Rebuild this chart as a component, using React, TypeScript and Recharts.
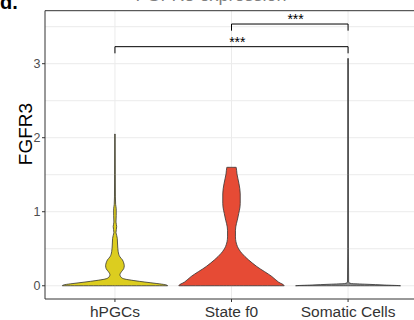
import {
  ComposedChart,
  Area,
  XAxis,
  YAxis,
  CartesianGrid,
  ReferenceLine,
  ReferenceDot
} from "recharts";

const categories = ["hPGCs", "State f0", "Somatic Cells"];

// expression levels (FGFR3) and violin half widths, in category units
const hpgcLevels = [0, 0.015, 0.03, 0.05, 0.07, 0.09, 0.11, 0.15, 0.19, 0.23, 0.27, 0.31, 0.35, 0.39, 0.46, 0.55, 0.64, 0.68, 0.72, 0.8, 0.86, 0.95, 1.04, 1.1, 1.2, 1.5, 2.05];
const hpgcWidths = [0.452, 0.429, 0.36, 0.257, 0.163, 0.086, 0.056, 0.043, 0.056, 0.075, 0.08, 0.075, 0.064, 0.043, 0.028, 0.023, 0.02, 0.015, 0.009, 0.015, 0.009, 0.011, 0.011, 0.006, 0.004, 0.003, 0.002];

const stateF0Levels = [0, 0.05, 0.125, 0.26, 0.35, 0.44, 0.53, 0.66, 0.75, 0.93, 1.11, 1.24, 1.38, 1.51, 1.6];
const stateF0Widths = [0.452, 0.403, 0.346, 0.217, 0.146, 0.088, 0.051, 0.034, 0.034, 0.056, 0.075, 0.075, 0.064, 0.047, 0.04];

const somaticLevels = [0, 0.01, 0.02, 0.03, 0.05, 0.5, 1.5, 3.07];
const somaticWidths = [0.45, 0.309, 0.163, 0.026, 0.005, 0.003, 0.003, 0.003];

const yTicks = [0, 1, 2, 3];
const gridLevels = [0, 0.5, 1, 1.5, 2, 2.5, 3, 3.5];
const yDomain = [-0.179, 3.716];

// significance brackets
const bracketFrom = [1, 2];
const bracketTo = [3, 3];
const bracketLevels = [3.23, 3.536];
const bracketDrop = 0.09;
const bracketLabels = ["***", "***"];
const labelPositions = [2.05, 2.55];

const FILLS = ["#DCCD1F", "#E64B35", "#8C8C8C"];

type Range = [number | null, number | null];

const violins = [
  { levels: hpgcLevels, widths: hpgcWidths },
  { levels: stateF0Levels, widths: stateF0Widths },
  { levels: somaticLevels, widths: somaticWidths }
];

const rows: Record<string, number | Range>[] = [];
violins.forEach((vio, i) => {
  const c = i + 1;
  const key = categories[i];
  const push = (v: number, lo: number, hi: number) => {
    const row: Record<string, number | Range> = { v };
    categories.forEach((k) => {
      row[k] = k === key ? [lo, hi] : [null, null];
    });
    rows.push(row);
  };
  const n = vio.levels.length;
  push(vio.levels[0], c, c); // close bottom
  vio.levels.forEach((v, j) => push(v, c - vio.widths[j], c + vio.widths[j]));
  push(vio.levels[n - 1], c, c); // close top
});

export default function App() {
  return (
    <div
      style={{
        position: "fixed",
        left: 0,
        top: 0,
        width: 414,
        height: 320,
        overflow: "hidden",
        background: "#fff",
        fontFamily: "'Liberation Sans', Arial, sans-serif"
      }}
    >
      <ComposedChart
        width={418}
        height={320}
        layout="vertical"
        data={rows}
        margin={{ top: 10.7, right: 0, bottom: 0, left: 0 }}
      >
        <CartesianGrid
          horizontalValues={gridLevels}
          verticalValues={[1, 2, 3]}
          stroke="#ebebeb"
          strokeWidth={1}
        />
        <XAxis
          type="number"
          domain={[0.4, 3.6]}
          ticks={[1, 2, 3]}
          interval={0}
          allowDataOverflow
          tickFormatter={(t: number) => categories[t - 1]}
          height={21}
          tickSize={3}
          tickMargin={4}
          axisLine={{ stroke: "#333", strokeWidth: 1 }}
          tickLine={{ stroke: "#333" }}
          tick={{ fontSize: 15.5, fill: "#333" }}
        />
        <YAxis
          type="number"
          dataKey="v"
          domain={yDomain}
          ticks={yTicks}
          reversed
          allowDataOverflow
          width={45}
          tickSize={3}
          tickMargin={1.5}
          axisLine={{ stroke: "#333", strokeWidth: 1 }}
          tickLine={{ stroke: "#333" }}
          tick={{ fontSize: 12.5, fill: "#4d4d4d" }}
        />
        <ReferenceLine y={yDomain[1]} stroke="#333" strokeWidth={1} />
        {categories.map((cat, i) => (
          <Area
            key={cat}
            dataKey={cat}
            type="monotone"
            fill={FILLS[i]}
            fillOpacity={1}
            stroke="#333"
            strokeWidth={0.8}
            dot={false}
            activeDot={false}
            isAnimationActive={false}
          />
        ))}
        {bracketLevels.map((lvl, i) => (
          <ReferenceLine
            key={`b-${i}`}
            segment={[
              { x: bracketFrom[i], y: lvl },
              { x: bracketTo[i], y: lvl }
            ]}
            stroke="#000"
            strokeWidth={1}
          />
        ))}
        {bracketLevels.map((lvl, i) => (
          <ReferenceLine
            key={`l-${i}`}
            segment={[
              { x: bracketFrom[i], y: lvl - bracketDrop },
              { x: bracketFrom[i], y: lvl }
            ]}
            stroke="#000"
            strokeWidth={1}
          />
        ))}
        {bracketLevels.map((lvl, i) => (
          <ReferenceLine
            key={`r-${i}`}
            segment={[
              { x: bracketTo[i], y: lvl - bracketDrop },
              { x: bracketTo[i], y: lvl }
            ]}
            stroke="#000"
            strokeWidth={1}
          />
        ))}
        {bracketLevels.map((lvl, i) => (
          <ReferenceDot
            key={`s-${i}`}
            x={labelPositions[i]}
            y={lvl}
            r={0}
            fill="none"
            stroke="none"
            label={{ value: bracketLabels[i], position: "top", offset: 0, fontSize: 14, fill: "#000" }}
          />
        ))}
      </ComposedChart>
      <svg
        width={414}
        height={320}
        style={{ position: "absolute", left: 0, top: 0, pointerEvents: "none" }}
      >
        <text x={0} y={9} fontSize={20} fontWeight="bold" fill="#000">
          d.
        </text>
        <text x={211} y={1} fontSize={18} textAnchor="middle" fill="#808080">
          FGFR3 expression
        </text>
        <text
          transform="translate(32,134) rotate(-90)"
          textAnchor="middle"
          fontSize={19}
          fill="#000"
        >
          FGFR3
        </text>
      </svg>
    </div>
  );
}
